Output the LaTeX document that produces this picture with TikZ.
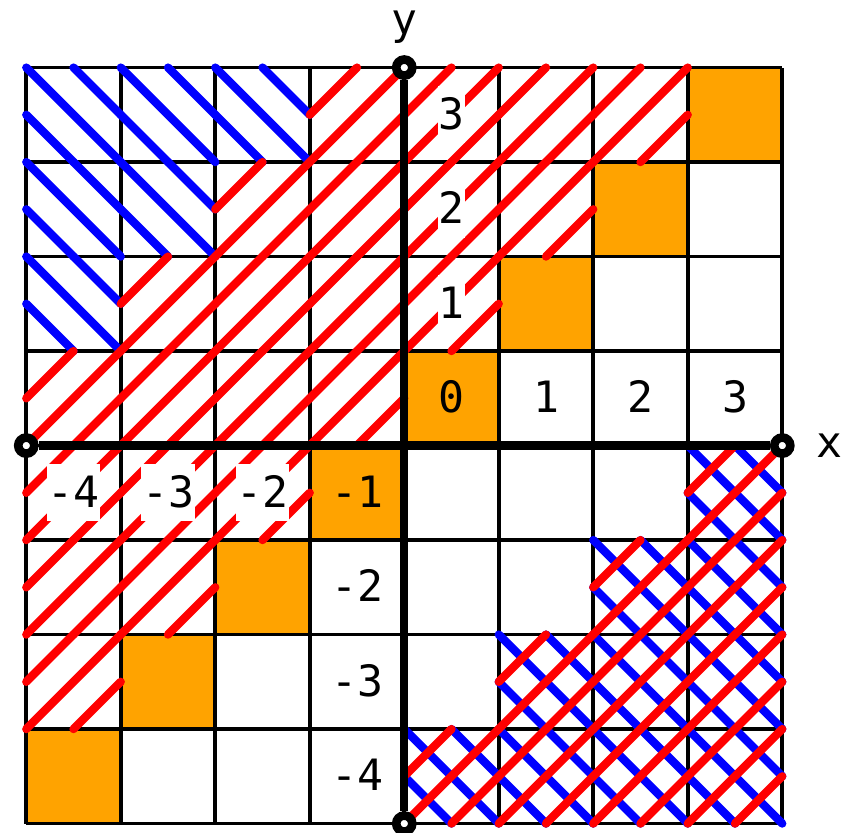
\documentclass[tikz,border=0pt]{standalone}
\usepackage{fontspec}
\newfontfamily\labfont{DejaVu Sans Mono}
\definecolor{cellorange}{RGB}{255,163,0}
\newcommand{\redcell}[2]{\draw[hatchred] (#1,#2) -- ++(1,1) (#1,#2+0.5) -- ++(0.5,0.5) (#1+0.5,#2) -- ++(0.5,0.5);}
\newcommand{\bluecell}[2]{\draw[hatchblue] (#1,#2+1) -- ++(1,-1) (#1,#2+0.5) -- ++(0.5,-0.5) (#1+0.5,#2+1) -- ++(0.5,-0.5);}
\begin{document}
\begin{tikzpicture}[x=1cm,y=1cm,
  gridline/.style={black,line width=1.1pt},
  axisline/.style={black,line width=2.5pt},
  endcirc/.style={circle,draw=black,fill=white,line width=2.6pt,minimum size=0.17cm,inner sep=0pt},
  hatchred/.style={red,line width=2.5pt,line cap=round},
  hatchblue/.style={blue,line width=2.5pt,line cap=round},
  lab/.style={font=\labfont\fontsize{13}{15}\selectfont,inner xsep=0.2pt,inner ysep=0pt,text height=12.9pt,text depth=4.2pt},
  labw/.style={lab,fill=white},
  axlab/.style={font=\labfont\fontsize{13}{15}\selectfont,inner sep=0pt,anchor=base},
]
\useasboundingbox (-4.278,-4.099) rectangle (4.664,4.715);
% orange diagonal cells
\foreach \k in {-4,...,3} \fill[cellorange] (\k,\k) rectangle ++(1,1);
% grid
\draw[gridline] (-4,-4) grid (4,4);
% blue hatching
\foreach \i in {-4,...,3}{\foreach \j in {-4,...,3}{
  \pgfmathtruncatemacro\dd{\j-\i}
  \ifnum\dd>4 \bluecell{\i}{\j}\fi
  \ifnum\dd<-3 \bluecell{\i}{\j}\fi
}}
% red hatching
\foreach \i in {-4,...,3}{\foreach \j in {-4,...,3}{
  \pgfmathtruncatemacro\dd{\j-\i}
  \ifnum\dd>0 \ifnum\dd<5 \redcell{\i}{\j}\fi\fi
  \ifnum\dd<-3 \redcell{\i}{\j}\fi
}}
% axes
\node[endcirc] (xl) at (-4,0) {};
\node[endcirc] (xr) at (4,0) {};
\node[endcirc] (yb) at (0,-4) {};
\node[endcirc] (yt) at (0,4) {};
\draw[axisline] (xl) -- (xr);
\draw[axisline] (yb) -- (yt);
\node[axlab] (xlab) at (4.5,-0.13) {x};
\node[axlab] (ylab) at (0,4.35) {y};
% labels
\node[lab] (l0) at (0.5,0.5) {0};
\node[lab] (lx1) at (1.5,0.5) {1};
\node[lab] (lx2) at (2.5,0.5) {2};
\node[lab] (lx3) at (3.5,0.5) {3};
\node[labw] (ly1) at (0.5,1.5) {1};
\node[labw] (ly2) at (0.5,2.5) {2};
\node[labw] (ly3) at (0.5,3.5) {3};
\node[lab] (lm1) at (-0.5,-0.5) {-1};
\node[lab] (lym2) at (-0.5,-1.5) {-2};
\node[lab] (lym3) at (-0.5,-2.5) {-3};
\node[lab] (lym4) at (-0.5,-3.5) {-4};
\node[labw] (lxm4) at (-3.5,-0.5) {-4};
\node[labw] (lxm3) at (-2.5,-0.5) {-3};
\node[labw] (lxm2) at (-1.5,-0.5) {-2};
\end{tikzpicture}
\end{document}
